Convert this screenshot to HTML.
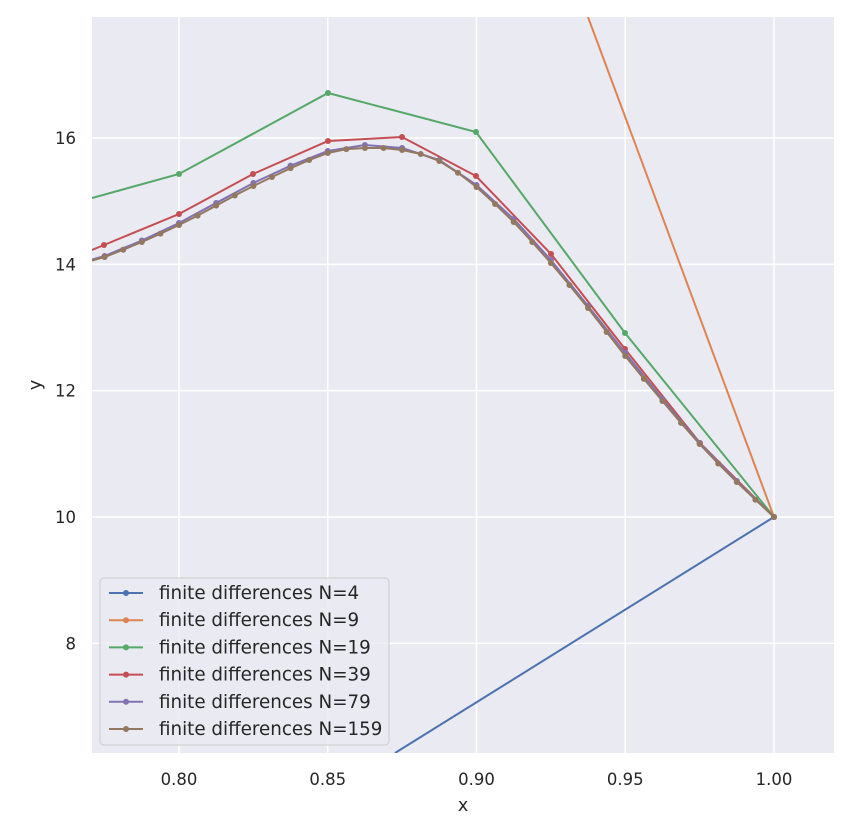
<!DOCTYPE html>
<html><head><meta charset="utf-8"><style>
html,body{margin:0;background:#fff;overflow:hidden;width:854px;height:816px;}
svg{display:block;font-family:"DejaVu Sans","Liberation Sans",sans-serif;}
</style></head><body>
<svg id="s" width="854" height="816" xmlns="http://www.w3.org/2000/svg">
<defs><clipPath id="c"><rect x="92" y="17" width="742" height="736"/></clipPath></defs>
<rect x="92" y="17" width="742" height="736" fill="#eaeaf2"/>
<g id="grid" stroke="#fff" stroke-width="1.5"></g>
<g id="series" clip-path="url(#c)"></g>
<g id="ticks" fill="#262626" font-size="16.5"></g>
<text x="463" y="811" font-size="17.5" fill="#262626" text-anchor="middle">x</text>
<text x="0" y="0" font-size="17.5" fill="#262626" text-anchor="middle" transform="translate(41,385) rotate(-90)">y</text>
<g id="legend"></g>
</svg>
<script>
const NS="http://www.w3.org/2000/svg";
const X=x=>179+(x-0.8)*2975, Y=y=>517-(y-10)*63.17;
function el(p,t,a,txt){const e=document.createElementNS(NS,t);for(const k in a)e.setAttribute(k,a[k]);if(txt!==undefined)e.textContent=txt;document.getElementById(p).appendChild(e);return e;}
[0.8,0.85,0.9,0.95,1.0].forEach(v=>{el("grid","line",{x1:X(v),x2:X(v),y1:17,y2:753});el("ticks","text",{x:X(v),y:785,"text-anchor":"middle"},v.toFixed(2));});
[8,10,12,14,16].forEach(v=>{el("grid","line",{x1:92,x2:834,y1:Y(v),y2:Y(v)});el("ticks","text",{x:76,y:Y(v)+6,"text-anchor":"end"},String(v));});
function interp(kp,x){for(let i=0;i<kp.length-1;i++){const[a,ya]=kp[i],[b,yb]=kp[i+1];if(x>=a-1e-9&&x<=b+1e-9){
 const p0=kp[Math.max(i-1,0)],p3=kp[Math.min(i+2,kp.length-1)];const t=(x-a)/(b-a);
 const m1=(yb-p0[1])/(b-p0[0])*(b-a),m2=(p3[1]-ya)/(p3[0]-a)*(b-a);
 const t2=t*t,t3=t2*t;return (2*t3-3*t2+1)*ya+(t3-2*t2+t)*m1+(-2*t3+3*t2)*yb+(t3-t2)*m2;}}return kp[0][1];}
function series(color,pts,mk){
 el("series","polyline",{points:pts.map(p=>p.join(",")).join(" "),fill:"none",stroke:color,"stroke-width":2});
 pts.forEach((p,i)=>{if(!mk||mk[i])el("series","circle",{cx:p[0],cy:p[1],r:3,fill:color});});}
series("#4c72b0",[[395,753],[774,517]],[0,1]);
series("#dd8452",[[588,17],[774,517]],[0,1]);
series("#55a868",[[92,198],[179,174],[328,93],[476,132],[625,333],[774,517]],[0,1,1,1,1,1]);
series("#c44e52",[[92,250],[104,245],[179,214],[253,174],[328,141],[402,137],[476,176],[551,254],[625,349],[700,443],[774,517]],[0,1,1,1,1,1,1,1,1,1,1]);
const brown=[[0.765,264],[0.775,257],[0.8,225],[0.825,186],[0.85,153],[0.8625,148],[0.875,150],[0.8875,161],[0.9,187],[0.90625,204],[0.9125,222],[0.925,263],[0.9375,308],[0.95,356],[0.9625,401],[0.975,444],[0.9875,482],[1,517]];
const purple=[[0.765,263],[0.775,256],[0.8,223],[0.825,183],[0.85,151],[0.8625,145],[0.875,148],[0.8875,160],[0.9,185],[0.9125,219],[0.925,260],[0.9375,306],[0.95,353],[0.975,443],[1,517]];
function gen(kp,h){const a=[[92,interp(kp,0.7708)]];for(let k=Math.ceil((1-0.77)/h);k>=0;k--){const x=1-k*h;if(x<0.7708)continue;a.push([X(x),interp(kp,x)]);}return a;}
const pp=gen(purple,0.0125);series("#8172b3",pp,pp.map((_,i)=>i>0));
const bb=gen(brown,0.00625);series("#937860",bb,bb.map((_,i)=>i>0));
el("legend","rect",{x:100,y:578,width:289,height:167,rx:4,fill:"#eaeaf2","fill-opacity":0.8,stroke:"#cccccc"});
[["#4c72b0","4"],["#dd8452","9"],["#55a868","19"],["#c44e52","39"],["#8172b3","79"],["#937860","159"]].forEach((d,i)=>{
 const y=593+i*27.2;
 el("legend","line",{x1:109,x2:143,y1:y,y2:y,stroke:d[0],"stroke-width":2});
 el("legend","circle",{cx:126,cy:y,r:3,fill:d[0]});
 el("legend","text",{x:159,y:y+6,"font-size":18.3,fill:"#262626"},"finite differences N="+d[1]);});
</script>
</body></html>
